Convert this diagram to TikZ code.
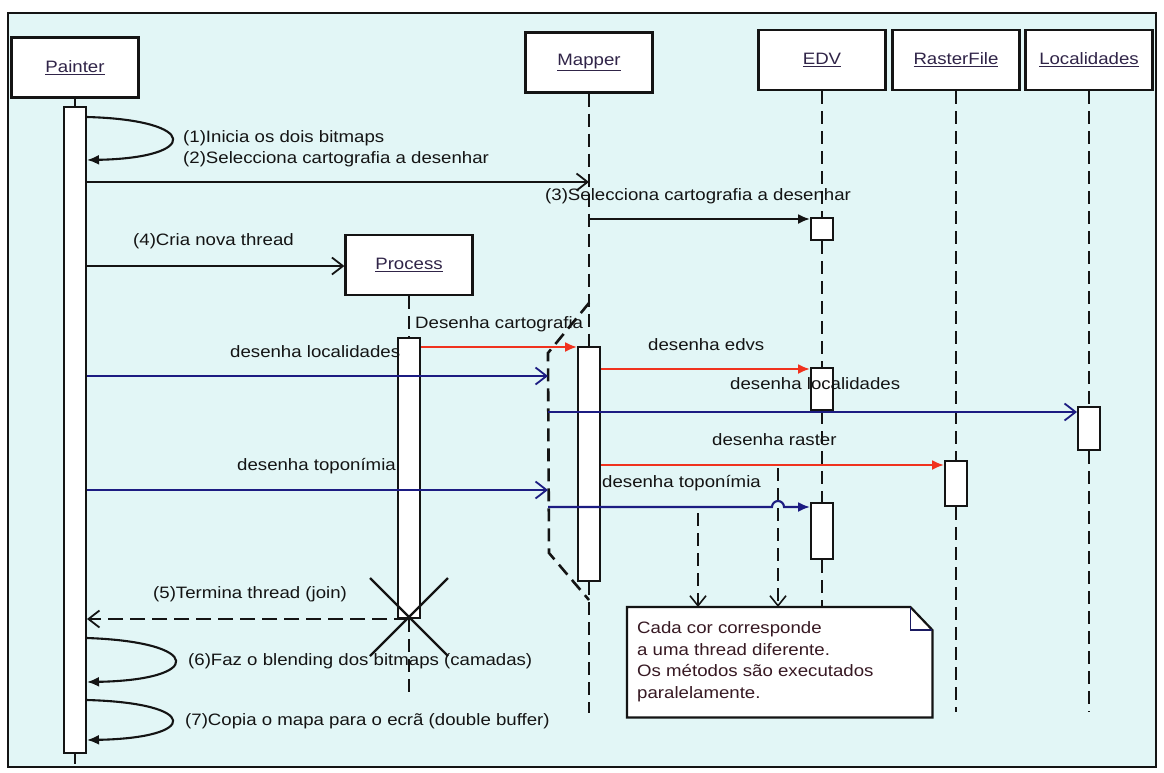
\documentclass[tikz,border=0pt]{standalone}
\usepackage{fontspec}
\setmainfont{Liberation Sans}[FakeStretch=1.13]
\usetikzlibrary{arrows.meta}
\definecolor{bgcyan}{RGB}{226,246,246}
\definecolor{msgred}{RGB}{240,50,30}
\definecolor{msgblue}{RGB}{28,28,130}
\definecolor{headink}{RGB}{48,36,72}
\definecolor{noteink}{RGB}{55,25,35}
\definecolor{ink}{RGB}{20,20,20}

\begin{document}
\begin{tikzpicture}[x=1pt,y=-1pt,
  font=\fontsize{16.5}{20}\selectfont,
  head/.style={draw=ink,line width=2.2pt,fill=white,minimum width=127pt,minimum height=60pt,inner sep=0pt,text=headink},
  actbar/.style={draw=ink,line width=2pt,fill=white,minimum width=22pt,inner sep=0pt,anchor=north},
  lifeline/.style={draw=ink,line width=2.6pt,dash pattern=on 13pt off 7pt},
  msg/.style={draw=ink,line width=2.1pt},
  opentip/.style={-{Straight Barb[length=11pt,width=17pt,line width=1.8pt]}},
  filltip/.style={-{Latex[length=12pt,width=10pt]}},
  lbl/.style={anchor=base west,inner sep=0pt,text=ink},
  notelbl/.style={anchor=base west,inner sep=0pt,text=noteink},
]
\useasboundingbox (0,0) rectangle (1164,772);
\fill[white] (0,0) rectangle (1164,772);
\draw[draw=ink,fill=bgcyan,line width=2.8pt] (8,13) rectangle (1156,767);

% object heads
\node[head] (painter) at (75,67.5) {\underline{Painter}};
\node[head] (mapper)  at (589,62.5) {\underline{Mapper}};
\node[head] (edv)     at (822,60) {\underline{EDV}};
\node[head] (raster)  at (956,60) {\underline{RasterFile}};
\node[head] (local)   at (1089,60) {\underline{Localidades}};
\node[head] (process) at (409,265) {\underline{Process}};

% activation bars
\node[actbar,minimum height=646pt] (pbar)  at (75,106) {};
\node[actbar,minimum height=280pt] (prbar) at (409,337) {};
\node[actbar,minimum height=234pt] (mbar)  at (589,346) {};
\node[actbar,minimum height=22pt]  (e1)    at (822,217) {};
\node[actbar,minimum height=42pt]  (e2)    at (822,367) {};
\node[actbar,minimum height=56pt]  (e3)    at (822,502) {};
\node[actbar,minimum height=45pt]  (rbar)  at (956,460) {};
\node[actbar,minimum height=43pt]  (lbar)  at (1089,406) {};

% note
\node[anchor=north west,minimum width=305pt,minimum height=110pt,inner sep=0pt] (note) at (627,607) {};
\draw[draw=ink,fill=white,line width=2.2pt] (note.north west) -- ([xshift=-22pt]note.north east)
  -- ([yshift=-23pt]note.north east) -- (note.south east) -- (note.south west) -- cycle;
\draw[draw=msgblue!70!ink,line width=1.2pt] ([xshift=-22pt]note.north east) -- ([xshift=-22pt,yshift=-23pt]note.north east)
  -- ([yshift=-23pt]note.north east);
\node[notelbl] (nl1) at (637,633) {Cada cor corresponde};
\node[notelbl] (nl2) at (637,655) {a uma thread diferente.};
\node[notelbl] (nl3) at (637,676) {Os métodos são executados};
\node[notelbl] (nl4) at (637,698) {paralelamente.};

% free ends
\coordinate (pend)  at (75,764);
\coordinate (prend) at (409,697);
\coordinate (mend)  at (589,713);
\coordinate (rend)  at (956,712);
\coordinate (lend)  at (1089,712);
\coordinate (brTop) at (548,353);
\coordinate (brBot) at (549,553);
\coordinate (n1)    at (698,513);
\coordinate (n2)    at (778,468);

% lifelines
\draw[draw=ink,line width=2pt] (painter.south) -- (pbar.north);
\draw[draw=ink,line width=2pt] (pbar.south) -- (pend);
\draw[lifeline] (process.south) -- (prbar.north);
\draw[lifeline] (prbar.south) -- (prend);
\draw[lifeline] (mapper.south) -- (mbar.north);
\draw[lifeline] (mbar.south) -- (mend);
\draw[lifeline] (edv.south) -- (e1.north);
\draw[lifeline] (e1.south) -- (e2.north);
\draw[lifeline] (e2.south) -- (e3.north);
\draw[lifeline] (e3.south) -- (e3.south |- note.north);
\draw[lifeline] (raster.south) -- (rbar.north);
\draw[lifeline] (rbar.south) -- (rend);
\draw[lifeline] (local.south) -- (lbar.north);
\draw[lifeline] (lbar.south) -- (lend);

% parallel branch of the Mapper lifeline
\draw[lifeline] (mapper.south |- 0,303) -- (brTop) -- (brBot) -- (mbar.south |- 0,600);

% links to the note
\draw[lifeline,line width=2.2pt,-{Straight Barb[length=10pt,width=16pt,line width=1.6pt]}] (n1) -- (n1 |- note.north);
\draw[lifeline,line width=2.2pt,-{Straight Barb[length=10pt,width=16pt,line width=1.6pt]}] (n2) -- (n2 |- note.north);

% self messages on Painter
\draw[msg,filltip] (pbar.east |- 0,117) .. controls (200,120) and (200,158) .. (pbar.east |- 0,160);
\draw[msg,filltip] (pbar.east |- 0,638) .. controls (204,642) and (204,680) .. (pbar.east |- 0,682);
\draw[msg,filltip] (pbar.east |- 0,700) .. controls (200,703) and (200,738) .. (pbar.east |- 0,740);

% black messages
\draw[msg,opentip] (pbar.east |- 0,182) -- (mapper.south |- 0,182);
\draw[msg,filltip] (mapper.south |- 0,219) -- (e1.west |- 0,219);
\draw[msg,opentip] (pbar.east |- 0,266) -- (process.west |- 0,266);

% red thread
\draw[msg,draw=msgred,filltip] (prbar.east |- 0,347) -- (mbar.west |- 0,347);
\draw[msg,draw=msgred,filltip] (mbar.east |- 0,369) -- (e2.west |- 0,369);
\draw[msg,draw=msgred,filltip] (mbar.east |- 0,465) -- (rbar.west |- 0,465);

% blue thread
\draw[msg,draw=msgblue,opentip] (pbar.east |- 0,376) -- (brTop |- 0,376);
\draw[msg,draw=msgblue,opentip] (brTop |- 0,412) -- (lbar.west |- 0,412);
\draw[msg,draw=msgblue,opentip] (pbar.east |- 0,490) -- (brTop |- 0,490);
\draw[msg,draw=msgblue,filltip] (brTop |- 0,507) -- (772,507)
  arc[start angle=180,end angle=0,radius=6pt] -- (e3.west |- 0,507);

% join
\draw[msg,dash pattern=on 15pt off 7pt,opentip] (prbar.south) -- (pbar.east |- prbar.south);
\draw[draw=ink,line width=2.2pt] (370,578) -- (448,656);
\draw[draw=ink,line width=2.2pt] (448,578) -- (370,656);

% labels
\node[lbl] (l1)  at (183,142) {(1)Inicia os dois bitmaps};
\node[lbl] (l2)  at (183,163) {(2)Selecciona cartografia a desenhar};
\node[lbl] (l3)  at (545,200) {(3)Selecciona cartografia a desenhar};
\node[lbl] (l4)  at (133,245) {(4)Cria nova thread};
\node[lbl] (ldc) at (415,328) {Desenha cartografia};
\node[lbl] (ldl) at (230,357) {desenha localidades};
\node[lbl] (lde) at (648,350) {desenha edvs};
\node[lbl] (ldl2) at (730,389) {desenha localidades};
\node[lbl] (ldr) at (712,445) {desenha raster};
\node[lbl] (ldt) at (237,470) {desenha toponímia};
\node[lbl] (ldt2) at (602,487) {desenha toponímia};
\node[lbl] (l5)  at (153,598) {(5)Termina thread (join)};
\node[lbl] (l6)  at (188,665) {(6)Faz o blending dos bitmaps (camadas)};
\node[lbl] (l7)  at (185,725) {(7)Copia o mapa para o ecrã (double buffer)};
\end{tikzpicture}
\end{document}
